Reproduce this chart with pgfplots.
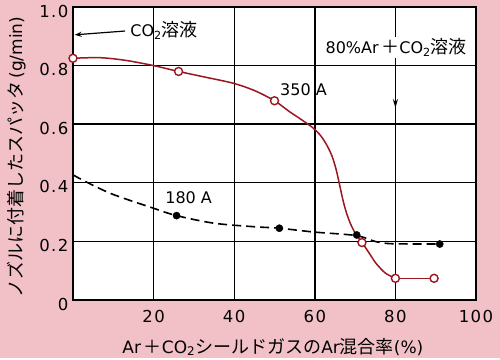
\documentclass[border=0pt]{standalone}
\usepackage{fontspec}
\setmainfont{DejaVu Sans}
\newfontfamily\jp{Noto Sans CJK JP}
\newfontfamily\tickfam[LetterSpace=9]{DejaVu Sans}
\usepackage{pgfplots}
\pgfplotsset{compat=1.18}
\usetikzlibrary{arrows.meta}
\definecolor{bgpink}{RGB}{242,192,199}
\definecolor{curvered}{RGB}{155,22,32}
\newcommand{\tickf}{\tickfam\fontsize{16.5}{19}\selectfont}
\newcommand{\bigf}{\fontsize{16}{19}\selectfont}
\newcommand{\labf}{\fontsize{17}{20}\selectfont}
\newcommand{\J}[1]{{\jp\fontsize{18}{20}\selectfont #1}}
\begin{document}
\begin{tikzpicture}[x=1pt,y=1pt]
\fill[bgpink] (0,0) rectangle (500,358);
\begin{axis}[
  at={(73pt,58pt)}, anchor=south west,
  scale only axis, width=403pt, height=293pt,
  xmin=0, xmax=100, ymin=0, ymax=1,
  xtick={20,40,60,80,100},
  ytick={0,0.2,0.4,0.6,0.8,1.0},
  yticklabels={0,0.2,0.4,0.6,0.8,1.0},
  xticklabels={20,40,60,80,100},
  grid=major,
  major grid style={black, line width=1.4pt},
  axis line style={line width=1.8pt},
  tick style={draw=none},
  axis background/.style={fill=white},
  tick label style={font=\tickf},
  /pgf/number format/assume math mode=true,
  xticklabel style={yshift=-7pt},
  yticklabel style={yshift=-4pt, xshift=-1pt},
  xlabel={\labf Ar\,\J{＋}CO\textsubscript{2}\J{シールドガスの}Ar\J{混合率}(\%)},
  ylabel={\labf \J{ノズルに付着したスパッタ}\,(g/min)},
  xlabel style={at={(axis description cs:0.496,-0.160)}, anchor=center},
  ylabel style={at={(axis description cs:-0.141,0.488)}, anchor=center},
  clip=false,
]
% 180 A dashed curve
\addplot[black, line width=1.6pt, dash pattern=on 9pt off 5pt, smooth, tension=0.5] coordinates {
(0,0.427) (3.7,0.40) (10,0.36) (19.8,0.314) (25.7,0.288) (35,0.262) (45,0.25) (51.2,0.245) (59.7,0.232) (70.2,0.22) (75.2,0.199) (79.3,0.192) (91,0.191)};
% 350 A red curve
\addplot[curvered, line width=1.5pt, smooth, tension=0.5] coordinates {
(0,0.825) (6.7,0.827) (13,0.818) (20,0.80) (26.2,0.78) (33,0.76) (39.7,0.74) (45,0.715) (50,0.68) (53.7,0.643) (56.2,0.62) (59.5,0.588) (61.5,0.56) (63,0.528) (64.3,0.49) (65.3,0.445) (66.2,0.39) (67,0.34) (67.8,0.30) (68.8,0.262) (70,0.229) (71.7,0.197) (73.5,0.16) (75.2,0.125) (77.5,0.092) (80,0.074)};
\addplot[curvered, line width=1.5pt] coordinates {(80,0.074) (89.6,0.074)};
% markers
\addplot[only marks, mark=*, mark size=3.6pt, black, mark options={fill=black}] coordinates {
(25.7,0.288) (51.2,0.245) (70.4,0.222) (91,0.191)};
\addplot[only marks, mark=*, mark size=4pt, curvered, mark options={fill=white, line width=1.4pt}] coordinates {
(0,0.825) (26.2,0.78) (50,0.68) (71.7,0.196) (80,0.074) (89.6,0.074)};
% annotations
\node[font=\bigf, anchor=center] at (axis cs:22.6,0.92) {CO\textsubscript{2}\J{溶液}};
\draw[-{Stealth[length=7pt,width=5pt]}, line width=1.2pt] (axis cs:12.9,0.918) -- (axis cs:0.4,0.905);
\node[font=\bigf, anchor=center, fill=white, inner sep=2pt] at (axis cs:80.2,0.862) {80\%Ar\,\J{＋}CO\textsubscript{2}\J{溶液}};
\draw[-{Stealth[length=9pt,width=5pt]}, line width=1.7pt] (axis cs:80,0.80) -- (axis cs:80,0.655);
\node[font=\bigf, anchor=center] at (axis cs:57.2,0.717) {350 A};
\node[font=\bigf, anchor=center] at (axis cs:28.7,0.348) {180 A};
\end{axis}
\end{tikzpicture}
\end{document}
